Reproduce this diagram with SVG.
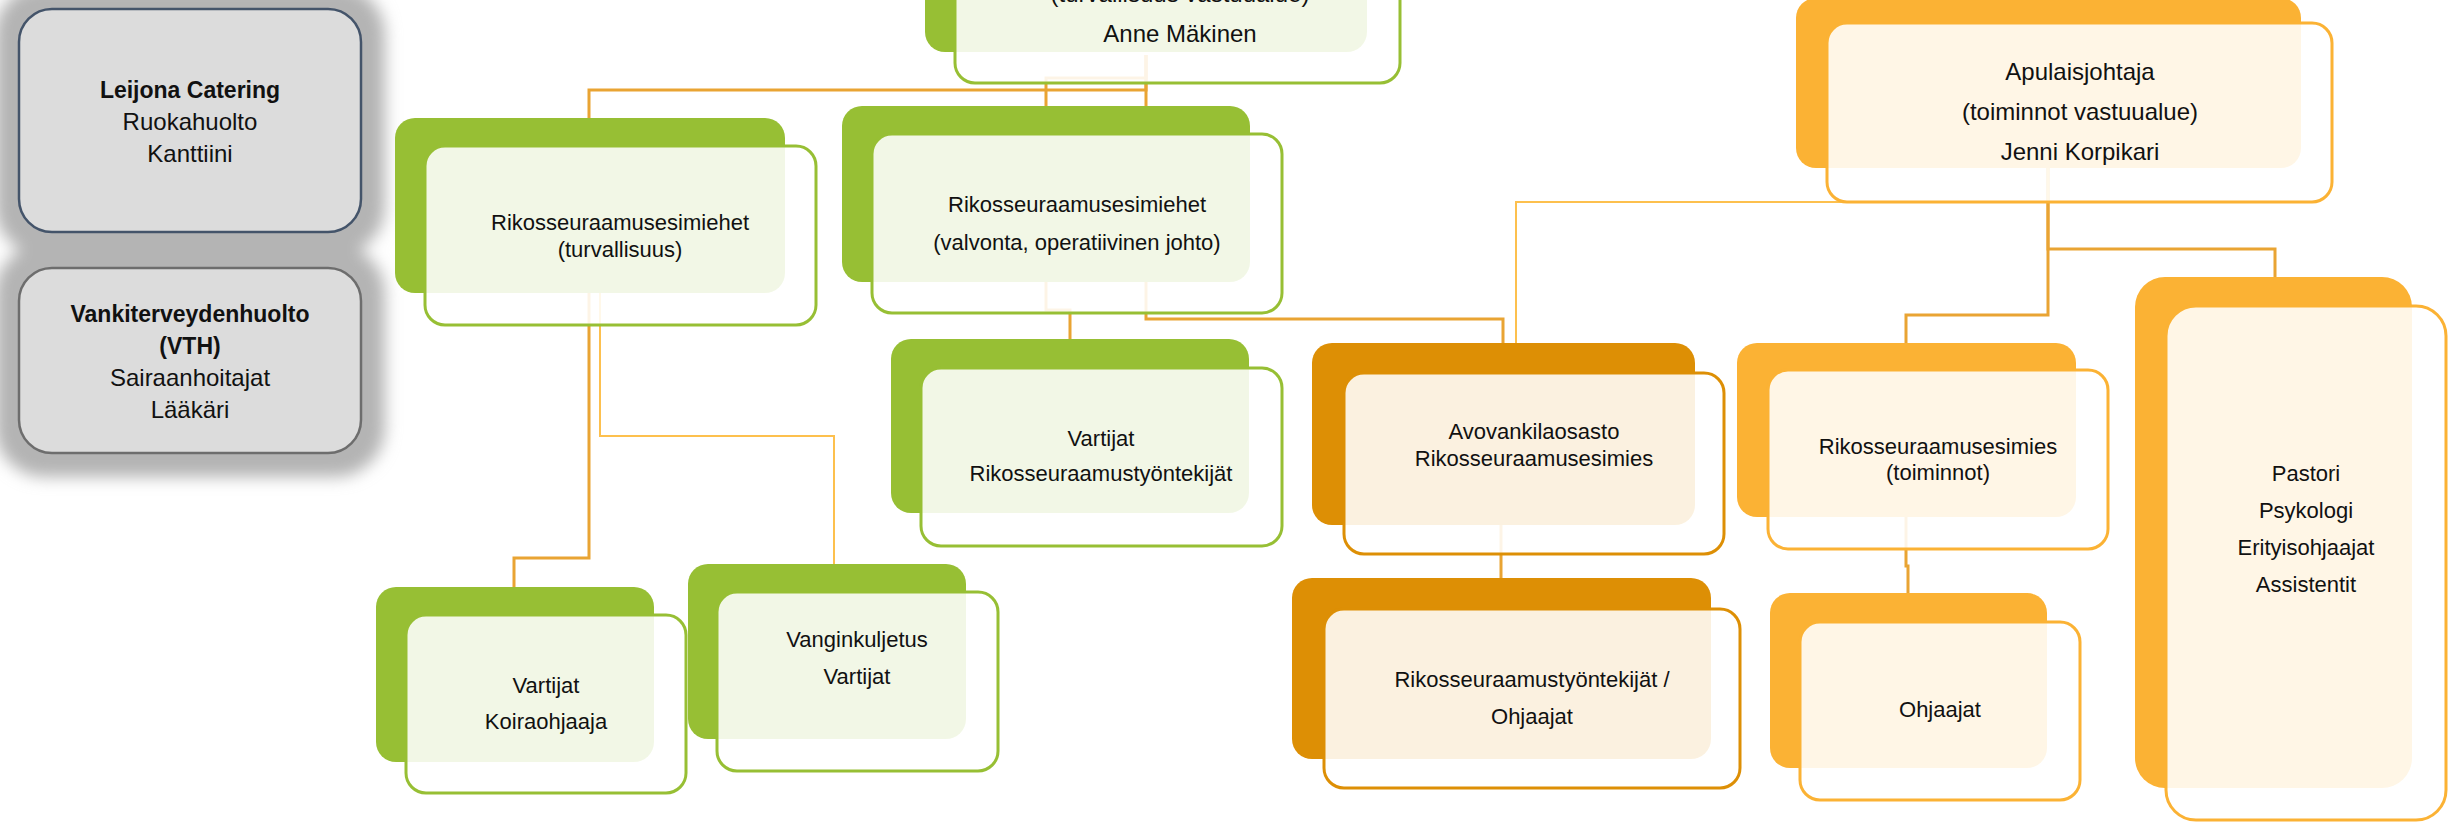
<svg xmlns="http://www.w3.org/2000/svg" width="2458" height="822" viewBox="0 0 2458 822">
<defs>
<filter id="glow" x="-30%" y="-30%" width="160%" height="160%"><feGaussianBlur stdDeviation="8"/></filter>
</defs>
<style>
text{font-family:"Liberation Sans",Arial,sans-serif;fill:#111;text-anchor:middle}
.t22{font-size:22px}
.t24{font-size:24px}
.b{font-weight:bold;font-size:23px}
.g{font-size:24px}
.shadow{fill:#b4b4b4}
.gray{fill:#dcdcdc;stroke-width:2.5}
.bkG{fill:#97bf34}
.frG{fill:#fff;fill-opacity:0.88;stroke:#97bf34;stroke-width:3}
.bkD{fill:#dd8f05}
.frD{fill:#fff;fill-opacity:0.88;stroke:#dd8f05;stroke-width:3}
.bkL{fill:#fbb234}
.frL{fill:#fff;fill-opacity:0.88;stroke:#fbb234;stroke-width:3}
.c{fill:none;stroke:#e9a433;stroke-width:3}
.cl{fill:none;stroke:#fdc04e;stroke-width:2}
</style>
<rect width="2458" height="822" fill="#fff"/>

<g id="connectors">
<path class="c" d="M1146,55 V90 H589 V118"/>
<path class="c" d="M1146,55 V78 H1046 V106"/>
<path class="c" d="M1146,55 V319 H1503 V343"/>
<path class="c" d="M1046,282 V310 H1070 V339"/>
<path class="c" d="M589,293 V558 H514 V587"/>
<path class="cl" d="M600,293 V436 H834 V564"/>
<path class="c" d="M2048,168 V315 H1906 V343"/>
<path class="c" d="M2048,168 V249 H2275 V277"/>
<path class="cl" d="M2048,168 V202 H1516 V343"/>
<path class="c" d="M1501,525 V578"/>
<path class="c" d="M1906,517 V566 H1908 V593"/>
</g>

<g id="shadows" filter="url(#glow)">
<rect class="shadow" x="-5" y="-15" width="390" height="271" rx="50"/>
<rect class="shadow" x="-5" y="244" width="390" height="233" rx="50"/>
</g>

<g id="leijona">
<rect class="gray" x="19" y="9" width="342" height="223" rx="33" stroke="#44546a"/>
<text class="b" x="190" y="98">Leijona Catering</text>
<text class="g" x="190" y="130">Ruokahuolto</text>
<text class="g" x="190" y="162">Kanttiini</text>
</g>

<g id="vth">
<rect class="gray" x="19" y="268" width="342" height="185" rx="33" stroke="#6d6d6d"/>
<text class="b" x="190" y="322">Vankiterveydenhuolto</text>
<text class="b" x="190" y="354">(VTH)</text>
<text class="g" x="190" y="386">Sairaanhoitajat</text>
<text class="g" x="190" y="418">Lääkäri</text>
</g>

<g id="turvallisuusjohtaja">
<rect class="bkG" x="925" y="-123" width="442" height="175" rx="20"/>
<rect class="frG" x="955" y="-96" width="445" height="179" rx="20"/>
<text class="t24" x="1180" y="2">(turvallisuus vastuualue)</text>
<text class="t24" x="1180" y="42">Anne Mäkinen</text>
</g>

<g id="turvallisuus">
<rect class="bkG" x="395" y="118" width="390" height="175" rx="20"/>
<rect class="frG" x="425" y="146" width="391" height="179" rx="20"/>
<text class="t22" x="620" y="230">Rikosseuraamusesimiehet</text>
<text class="t22" x="620" y="257">(turvallisuus)</text>
</g>

<g id="valvonta">
<rect class="bkG" x="842" y="106" width="408" height="176" rx="20"/>
<rect class="frG" x="872" y="134" width="410" height="179" rx="20"/>
<text class="t22" x="1077" y="212">Rikosseuraamusesimiehet</text>
<text class="t22" x="1077" y="250">(valvonta, operatiivinen johto)</text>
</g>

<g id="vartijat-rst">
<rect class="bkG" x="891" y="339" width="358" height="174" rx="20"/>
<rect class="frG" x="921" y="368" width="361" height="178" rx="20"/>
<text class="t22" x="1101" y="446">Vartijat</text>
<text class="t22" x="1101" y="481">Rikosseuraamustyöntekijät</text>
</g>

<g id="vartijat-koira">
<rect class="bkG" x="376" y="587" width="278" height="175" rx="20"/>
<rect class="frG" x="406" y="615" width="280" height="178" rx="20"/>
<text class="t22" x="546" y="693">Vartijat</text>
<text class="t22" x="546" y="729">Koiraohjaaja</text>
</g>

<g id="vanginkuljetus">
<rect class="bkG" x="688" y="564" width="278" height="175" rx="20"/>
<rect class="frG" x="717" y="592" width="281" height="179" rx="20"/>
<text class="t22" x="857" y="647">Vanginkuljetus</text>
<text class="t22" x="857" y="684">Vartijat</text>
</g>

<g id="apulaisjohtaja">
<rect class="bkL" x="1796" y="-2" width="505" height="170" rx="20"/>
<rect class="frL" x="1827" y="23" width="505" height="179" rx="20"/>
<text class="t24" x="2080" y="80">Apulaisjohtaja</text>
<text class="t24" x="2080" y="120">(toiminnot vastuualue)</text>
<text class="t24" x="2080" y="160">Jenni Korpikari</text>
</g>

<g id="avovankilaosasto">
<rect class="bkD" x="1312" y="343" width="383" height="182" rx="20"/>
<rect class="frD" x="1344" y="373" width="380" height="181" rx="20"/>
<text class="t22" x="1534" y="439">Avovankilaosasto</text>
<text class="t22" x="1534" y="466">Rikosseuraamusesimies</text>
</g>

<g id="rst-ohjaajat">
<rect class="bkD" x="1292" y="578" width="419" height="181" rx="20"/>
<rect class="frD" x="1324" y="609" width="416" height="179" rx="20"/>
<text class="t22" x="1532" y="687">Rikosseuraamustyöntekijät /</text>
<text class="t22" x="1532" y="724">Ohjaajat</text>
</g>

<g id="toiminnot">
<rect class="bkL" x="1737" y="343" width="339" height="174" rx="20"/>
<rect class="frL" x="1768" y="370" width="340" height="179" rx="20"/>
<text class="t22" x="1938" y="454">Rikosseuraamusesimies</text>
<text class="t22" x="1938" y="480">(toiminnot)</text>
</g>

<g id="ohjaajat">
<rect class="bkL" x="1770" y="593" width="277" height="175" rx="20"/>
<rect class="frL" x="1800" y="622" width="280" height="178" rx="20"/>
<text class="t22" x="1940" y="717">Ohjaajat</text>
</g>

<g id="pastori">
<rect class="bkL" x="2135" y="277" width="277" height="511" rx="30"/>
<rect class="frL" x="2166" y="306" width="280" height="514" rx="30"/>
<text class="t22" x="2306" y="481">Pastori</text>
<text class="t22" x="2306" y="518">Psykologi</text>
<text class="t22" x="2306" y="555">Erityisohjaajat</text>
<text class="t22" x="2306" y="592">Assistentit</text>
</g>
</svg>
